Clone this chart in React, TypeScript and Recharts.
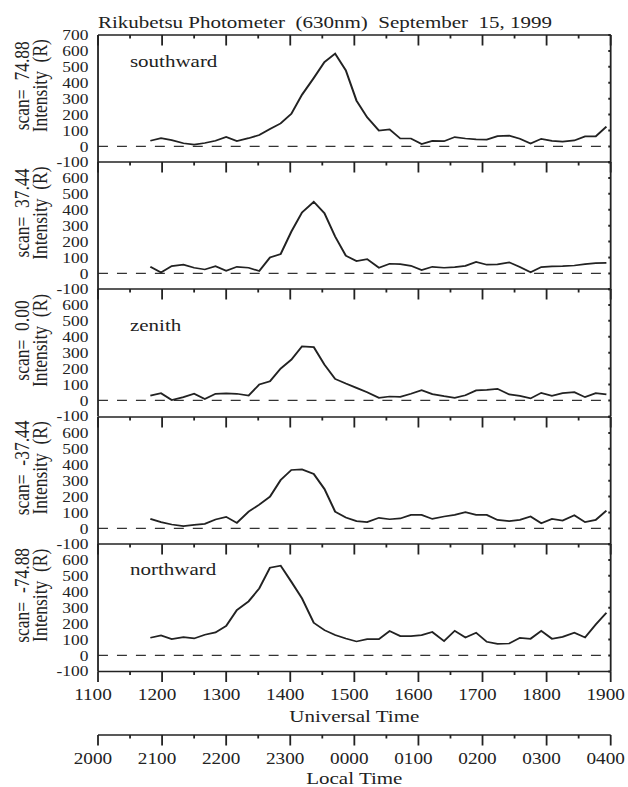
import React from "react"
import { LineChart, Line, XAxis, YAxis, ReferenceLine } from "recharts"

// scan times (UT, HHMM)
const utTimes = [
  1149, 1159, 1209, 1220, 1230, 1240, 1250, 1300, 1310, 1321, 1331, 1341, 1351, 1401, 1411,
  1422, 1432, 1442, 1452, 1502, 1512, 1523, 1533, 1543, 1553, 1603, 1613, 1624, 1634, 1644,
  1654, 1704, 1714, 1725, 1735, 1745, 1755, 1805, 1815, 1826, 1836, 1846, 1856,
]

const southward = [
  36, 52, 40, 20, 12, 22, 36, 60, 34, 52, 72, 110, 145, 205, 325, 430, 530, 583, 478, 288, 183, 100,
  107, 50, 50, 15, 35, 33, 59, 50, 45, 43, 65, 68, 48, 18, 48, 35, 30, 38, 63, 63, 125,
]
const scan37 = [
  42, 6, 46, 55, 36, 25, 46, 17, 42, 36, 15, 100, 122, 263, 383, 450, 379, 232, 112, 78, 90, 36, 61,
  59, 48, 21, 42, 36, 40, 48, 72, 55, 57, 70, 40, 8, 40, 44, 46, 50, 59, 65, 67,
]
const zenith = [
  30, 45, 3, 21, 42, 9, 42, 44, 42, 31, 100, 121, 200, 256, 340, 335, 225, 135, 106, 79, 52, 17, 25,
  23, 42, 65, 40, 27, 17, 33, 63, 67, 73, 38, 29, 13, 48, 29, 46, 52, 21, 46, 38,
]
const scanM37 = [
  60, 40, 25, 15, 23, 29, 56, 73, 35, 106, 150, 200, 304, 367, 371, 342, 248, 106, 69, 46, 40, 67, 58,
  63, 85, 85, 60, 75, 85, 102, 85, 85, 54, 46, 54, 75, 33, 60, 50, 83, 40, 54, 112,
]
const northward = [
  111, 126, 103, 115, 107, 130, 145, 185, 285, 340, 421, 551, 564, 463, 358, 205, 159, 128, 107, 88,
  103, 103, 153, 122, 122, 128, 147, 90, 155, 113, 143, 86, 73, 75, 111, 105, 155, 105, 117, 143, 113,
  195, 268,
]

const panelSeries = [southward, scan37, zenith, scanM37, northward]
const scanLabels = ["scan=  74.88", "scan=  37.44", "scan=  0.00", "scan=  -37.44", "scan=  -74.88"]
const panelNames = ["southward", "", "zenith", "", "northward"]
const panelNameDy = [33, 0, 42, 0, 31]

const yTicks = [-100, 0, 100, 200, 300, 400, 500, 600, 700]
const xTicks = [11, 11.5, 12, 12.5, 13, 13.5, 14, 14.5, 15, 15.5, 16, 16.5, 17, 17.5, 18, 18.5, 19]
const utTickLabels = ["1100", "1200", "1300", "1400", "1500", "1600", "1700", "1800", "1900"]
const ltTickLabels = ["2000", "2100", "2200", "2300", "0000", "0100", "0200", "0300", "0400"]

// the original figure is stretched horizontally
const S = 1.2
const W = 628 / S
const PLOT_L = 98 / S
const PLOT_R = 610.7 / S
const PH = 127.4
const TOP0 = 34.5
const INK = "#222"
const FONT = "'Liberation Serif', 'Times New Roman', serif"

const toHours = (t: number) => Math.floor(t / 100) + (t % 100) / 60

function TopTick(props: any) {
  const { x, y, payload } = props
  const major = Number.isInteger(payload.value)
  return <line x1={x} x2={x} y1={y} y2={y + (major ? 10.5 : 3.5)} stroke={INK} strokeWidth={1.5} />
}

function BottomTick(props: any) {
  const { x, y, payload, labels } = props
  const major = Number.isInteger(payload.value)
  return (
    <g>
      <line x1={x} x2={x} y1={y} y2={y + (major ? 10.5 : 3.5)} stroke={INK} strokeWidth={1.5} />
      {major && (
        <text x={x - 4.2} y={y + 28.7} textAnchor="middle" fontSize={16} fontFamily={FONT} fill={INK}>
          {labels[payload.value - 11]}
        </text>
      )}
    </g>
  )
}

function LeftTick(props: any) {
  const { x, y, payload, showTop } = props
  if (payload.value === 700 && !showTop) return <g />
  return (
    <text x={x - 8} y={y} dy="0.35em" textAnchor="end" fontSize={14.5} fontFamily={FONT} fill={INK}>
      {String(payload.value)}
    </text>
  )
}

function RightTick(props: any) {
  const { x, y } = props
  return <line x1={x} x2={x - 2} y1={y} y2={y} stroke={INK} strokeWidth={2} />
}

const axisLine = { stroke: INK, strokeWidth: 1.5 }

function Panel({ index }: { index: number }) {
  const last = index === 4
  const values = panelSeries[index]
  const data = utTimes.map((t, i) => ({ t: toHours(t), v: values[i] }))
  const top = TOP0 + index * PH
  const height = 10 + PH + (last ? 63 : 10)
  return (
    <div style={{ position: "absolute", left: 0, top: top - 10, width: W, height }}>
      <LineChart
        width={W}
        height={height}
        data={data}
        margin={{ top: 0, right: W - PLOT_R - 10, bottom: last ? 0 : 10, left: 0 }}
      >
        <XAxis
          xAxisId="top"
          orientation="top"
          type="number"
          dataKey="t"
          domain={[11, 19]}
          ticks={xTicks}
          interval={0}
          height={10}
          axisLine={axisLine}
          tickLine={false}
          tickSize={0}
          tickMargin={0}
          tick={(p: any) => <TopTick {...p} />}
          allowDataOverflow
        />
        {last && (
          <XAxis
            xAxisId="ut"
            orientation="bottom"
            type="number"
            dataKey="t"
            domain={[11, 19]}
            ticks={xTicks}
            interval={0}
            height={63}
            axisLine={axisLine}
            tickLine={false}
            tickSize={0}
            tickMargin={0}
            tick={(p: any) => <BottomTick {...p} labels={utTickLabels} />}
            allowDataOverflow
          />
        )}
        <YAxis
          yAxisId="l"
          type="number"
          domain={[-100, 700]}
          ticks={yTicks}
          interval={0}
          width={PLOT_L}
          axisLine={axisLine}
          tickLine={false}
          tickSize={0}
          tickMargin={0}
          tick={(p: any) => <LeftTick {...p} showTop={index === 0} />}
          allowDataOverflow
        />
        <YAxis
          yAxisId="r"
          orientation="right"
          type="number"
          domain={[-100, 700]}
          ticks={yTicks}
          interval={0}
          width={10}
          axisLine={axisLine}
          tickLine={false}
          tickSize={0}
          tickMargin={0}
          tick={(p: any) => <RightTick {...p} />}
          allowDataOverflow
        />
        <ReferenceLine xAxisId="top" yAxisId="l" y={0} stroke="#333" strokeWidth={1.3} strokeDasharray="8.3 7.5" />
        <Line
          xAxisId="top"
          yAxisId="l"
          dataKey="v"
          type="linear"
          dot={false}
          stroke={INK}
          strokeWidth={1.7}
          isAnimationActive={false}
        />
      </LineChart>
    </div>
  )
}

// second time axis (local time = UT + 9h)
function LocalAxis() {
  const data = utTimes.map((t, i) => ({ t: toHours(t), v: northward[i] }))
  return (
    <div style={{ position: "absolute", left: 0, top: 734, width: W, height: 53 }}>
      <LineChart width={W} height={53} data={data} margin={{ top: 0, right: W - PLOT_R, bottom: 0, left: PLOT_L }}>
        <XAxis
          xAxisId="lt"
          orientation="bottom"
          type="number"
          dataKey="t"
          domain={[11, 19]}
          ticks={xTicks}
          interval={0}
          height={52}
          axisLine={axisLine}
          tickLine={false}
          tickSize={0}
          tickMargin={0}
          tick={(p: any) => <BottomTick {...p} labels={ltTickLabels} />}
          allowDataOverflow
        />
        <YAxis yAxisId="h" hide domain={[-100, 700]} />
        <Line xAxisId="lt" yAxisId="h" dataKey="v" hide dot={false} isAnimationActive={false} />
      </LineChart>
    </div>
  )
}

export default function App() {
  const txt = { fontFamily: FONT, fill: INK, fontSize: 17.5, whiteSpace: "pre" as const }
  const midX = (PLOT_L + PLOT_R) / 2
  return (
    <div style={{ position: "absolute", left: 0, top: 0, width: 628, height: 787, overflow: "hidden", background: "#fff" }}>
      <div style={{ position: "absolute", left: 0, top: 0, width: W, height: 787, transform: `scaleX(${S})`, transformOrigin: "0 0" }}>
        {panelSeries.map((_, i) => (
          <Panel key={i} index={i} />
        ))}
        <LocalAxis />
        <svg width={W} height={787} style={{ position: "absolute", left: 0, top: 0, pointerEvents: "none" }}>
          <text x={PLOT_L} y={28.5} style={txt}>
            Rikubetsu Photometer  (630nm)  September  15, 1999
          </text>
          {scanLabels.map((s, i) => {
            const cy = TOP0 + i * PH + PH / 2 - 12.5
            return (
              <g key={s}>
                <text transform={`translate(24.5, ${cy}) rotate(-90)`} textAnchor="middle" style={txt}>
                  {s}
                </text>
                <text transform={`translate(38.8, ${cy}) rotate(-90)`} textAnchor="middle" style={txt}>
                  Intensity  (R)
                </text>
              </g>
            )
          })}
          {panelNames.map((n, i) =>
            n ? (
              <text key={n} x={108.3} y={TOP0 + i * PH + panelNameDy[i]} style={txt}>
                {n}
              </text>
            ) : null
          )}
          <text x={midX} y={722} textAnchor="middle" style={txt}>
            Universal Time
          </text>
          <text x={midX} y={784} textAnchor="middle" style={txt}>
            Local Time
          </text>
        </svg>
      </div>
    </div>
  )
}
